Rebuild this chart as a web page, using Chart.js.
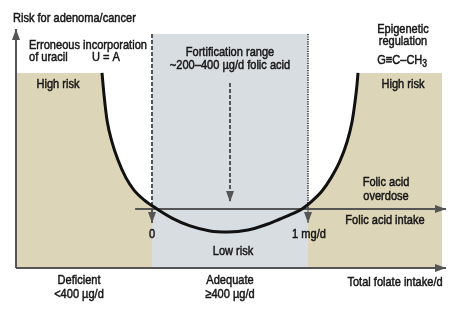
<!DOCTYPE html>
<html>
<head>
<meta charset="utf-8">
<script src="https://cdn.jsdelivr.net/npm/chart.js@4.4.1/dist/chart.umd.min.js"></script>
<style>
  html, body { margin: 0; padding: 0; background: #ffffff; }
  #wrap { width: 458px; height: 315px; position: relative; }
</style>
</head>
<body>
<div id="wrap"><canvas id="c"></canvas></div>
<script>
// ---- data (abstract units: intake 0..100 along x, risk 0..100 along y) ----
const curveX = [20.0, 20.47, 21.16, 22.33, 23.72, 25.58, 27.44, 29.77, 32.79, 36.28, 40.47, 45.12, 49.30, 53.95, 57.91, 61.40, 64.19, 66.51, 68.84, 71.16, 73.26, 75.35, 76.98, 78.14, 78.84, 79.30, 79.53];
const curveY = [81.6, 72.4, 61.9, 52.7, 45.2, 37.7, 32.6, 28.5, 24.7, 20.9, 17.6, 15.5, 15.1, 15.9, 18.0, 20.5, 22.6, 24.7, 28.0, 32.2, 37.7, 44.8, 52.7, 61.1, 69.5, 76.6, 81.6];

const highRiskLevel = 81.6;        // top of the "high risk" zones
const adequateRange = [31.63, 67.91]; // 0 .. 1 mg/d folic acid (gray band)
const adequateTop = 97.9;
const highRiskRightEnd = 99.07;
const curveAtLeft = 26.2;          // risk where curve meets left band edge
const curveAtRight = 26.7;         // risk where curve meets right band edge
const intakeLevel = 24.7;          // folic acid intake axis
const intakeStart = 27.7;
const markerEnd = 18.8;            // arrow tips of 0 and 1 mg/d markers
const fortX = 49.77, fortFrom = 77.4, fortTo = 27.6;

const labels = [
  { t: "Risk for adenoma/cancer", x: -0.7, y: 104.6, a: "left" },
  { t: "Erroneous incorporation", x: 3.02, y: 93.3, a: "left" },
  { t: "of uracil", x: 3.02, y: 87.9, a: "left" },
  { t: "U = A", x: 17.67, y: 87.9, a: "left" },
  { t: "High risk", x: 9.77, y: 77.0, a: "center" },
  { t: "Fortification range", x: 49.77, y: 90.4, a: "center" },
  { t: "~200\u2013400 \u00b5g/d folic acid", x: 49.77, y: 84.9, a: "center" },
  { t: "Epigenetic", x: 90.0, y: 100.0, a: "center" },
  { t: "regulation", x: 90.0, y: 94.6, a: "center" },
  { t: "High risk", x: 90.0, y: 77.0, a: "center" },
  { t: "Folic acid", x: 86.05, y: 36.0, a: "center" },
  { t: "overdose", x: 86.05, y: 30.1, a: "center" },
  { t: "Folic acid intake", x: 85.81, y: 20.1, a: "center" },
  { t: "0", x: 31.63, y: 14.2, a: "center" },
  { t: "1 mg/d", x: 68.14, y: 14.2, a: "center" },
  { t: "Low risk", x: 50.47, y: 7.1, a: "center" },
  { t: "Deficient", x: 14.65, y: -5.0, a: "center" },
  { t: "<400 \u00b5g/d", x: 14.65, y: -10.9, a: "center" },
  { t: "Adequate", x: 49.77, y: -5.0, a: "center" },
  { t: "\u2265400 \u00b5g/d", x: 49.77, y: -10.9, a: "center" },
  { t: "Total folate intake/d", x: 88.14, y: -5.9, a: "center" }
];
const formula = { main: "G\u2261C\u2013CH", sub: "3", x: 89.8, y: 87.0 };

// ---- build datasets from the arrays ----
const curvePts = curveX.map((x, i) => ({ x, y: curveY[i] }));
const leftZone = [{ x: 0, y: highRiskLevel }]
  .concat(curvePts.filter(p => p.x < adequateRange[0]))
  .concat([{ x: adequateRange[0], y: curveAtLeft }, { x: adequateRange[0], y: 0 }]);
const rightZone = [{ x: adequateRange[1], y: 0 }, { x: adequateRange[1], y: curveAtRight }]
  .concat(curvePts.filter(p => p.x > adequateRange[1]))
  .concat([{ x: highRiskRightEnd, y: highRiskLevel }, { x: highRiskRightEnd, y: 0 }]);

const TAN = "#dcd5b7", GRAY = "#d8dde1", LINE = "#555555";

function zone(data, color) {
  return { data, borderWidth: 0, borderColor: color, backgroundColor: color, fill: "origin",
           pointRadius: 0, tension: 0, order: 10 };
}
function seg(data, dash, width) {
  return { data, borderWidth: width || 2, borderColor: LINE, borderDash: dash || [], fill: false,
           pointRadius: 0, tension: 0, order: 5, borderCapStyle: "butt" };
}

const datasets = [
  zone(leftZone, TAN),
  zone(rightZone, TAN),
  zone([{ x: adequateRange[0], y: adequateTop }, { x: adequateRange[1], y: adequateTop }], GRAY),
  seg([{ x: 0, y: 0 }, { x: 0, y: 100 }]),                       // y axis
  seg([{ x: 0, y: 0 }, { x: 100, y: 0 }]),                       // x axis
  seg([{ x: intakeStart, y: intakeLevel }, { x: 100, y: intakeLevel }]),
  seg([{ x: adequateRange[0], y: adequateTop }, { x: adequateRange[0], y: markerEnd }], [4, 2], 2),
  seg([{ x: adequateRange[1], y: adequateTop }, { x: adequateRange[1], y: markerEnd }], [1.2, 1.2], 2),
  seg([{ x: fortX, y: fortFrom }, { x: fortX, y: fortTo }], [4, 2], 2),
  { data: curvePts, borderWidth: 3, borderColor: "#111111", fill: false, pointRadius: 0,
    cubicInterpolationMode: "monotone", order: 1 }
];

const arrows = [
  { x: 0, y: 100, d: "up" },
  { x: 100, y: 0, d: "right" },
  { x: 100, y: intakeLevel, d: "right" },
  { x: adequateRange[0], y: markerEnd, d: "down" },
  { x: adequateRange[1], y: markerEnd, d: "down" },
  { x: fortX, y: fortTo, d: "down" }
];

const FONT = "13px 'Liberation Sans', Arial, sans-serif";
const SUBFONT = "10px 'Liberation Sans', Arial, sans-serif";
const SQUEEZE = 0.85;

function drawText(ctx, t, x, y, align, font) {
  ctx.save();
  ctx.translate(x, y);
  ctx.scale(SQUEEZE, 1);
  ctx.font = font || FONT;
  ctx.textAlign = align;
  ctx.textBaseline = "middle";
  ctx.fillText(t, 0, 0);
  ctx.strokeText(t, 0, 0);
  ctx.restore();
}

const overlay = {
  id: "overlay",
  afterDatasetsDraw(chart) {
    const { ctx, scales } = chart;
    const X = v => scales.x.getPixelForValue(v);
    const Y = v => scales.y.getPixelForValue(v);
    ctx.save();
    ctx.fillStyle = LINE;
    arrows.forEach(a => {
      const tx = X(a.x), ty = Y(a.y), L = 11, W = 4;
      ctx.beginPath();
      if (a.d === "up") { ctx.moveTo(tx, ty); ctx.lineTo(tx - W, ty + L); ctx.lineTo(tx + W, ty + L); }
      if (a.d === "down") { ctx.moveTo(tx, ty); ctx.lineTo(tx - W, ty - L); ctx.lineTo(tx + W, ty - L); }
      if (a.d === "right") { ctx.moveTo(tx, ty); ctx.lineTo(tx - L, ty - W); ctx.lineTo(tx - L, ty + W); }
      ctx.closePath();
      ctx.fill();
    });
    ctx.fillStyle = "#161616";
    ctx.strokeStyle = "#161616";
    ctx.lineWidth = 0.5;
    labels.forEach(l => drawText(ctx, l.t, X(l.x), Y(l.y), l.a));
    // formula with subscript
    const fx = X(formula.x), fy = Y(formula.y);
    ctx.font = FONT;
    const w1 = ctx.measureText(formula.main).width * SQUEEZE;
    ctx.font = SUBFONT;
    const w2 = ctx.measureText(formula.sub).width * SQUEEZE;
    const start = fx - (w1 + w2) / 2;
    drawText(ctx, formula.main, start, fy, "left");
    drawText(ctx, formula.sub, start + w1, fy + 4, "left", SUBFONT);
    ctx.restore();
  }
};

new Chart(document.getElementById("c"), {
  type: "line",
  data: { datasets },
  options: {
    responsive: true,
    maintainAspectRatio: false,
    animation: false,
    layout: { padding: 0 },
    plugins: { legend: { display: false }, tooltip: { enabled: false } },
    scales: {
      x: { type: "linear", display: false, min: -3.721, max: 102.79 },
      y: { type: "linear", display: false, min: -19.665, max: 112.13 }
    }
  },
  plugins: [overlay]
});
</script>
</body>
</html>
